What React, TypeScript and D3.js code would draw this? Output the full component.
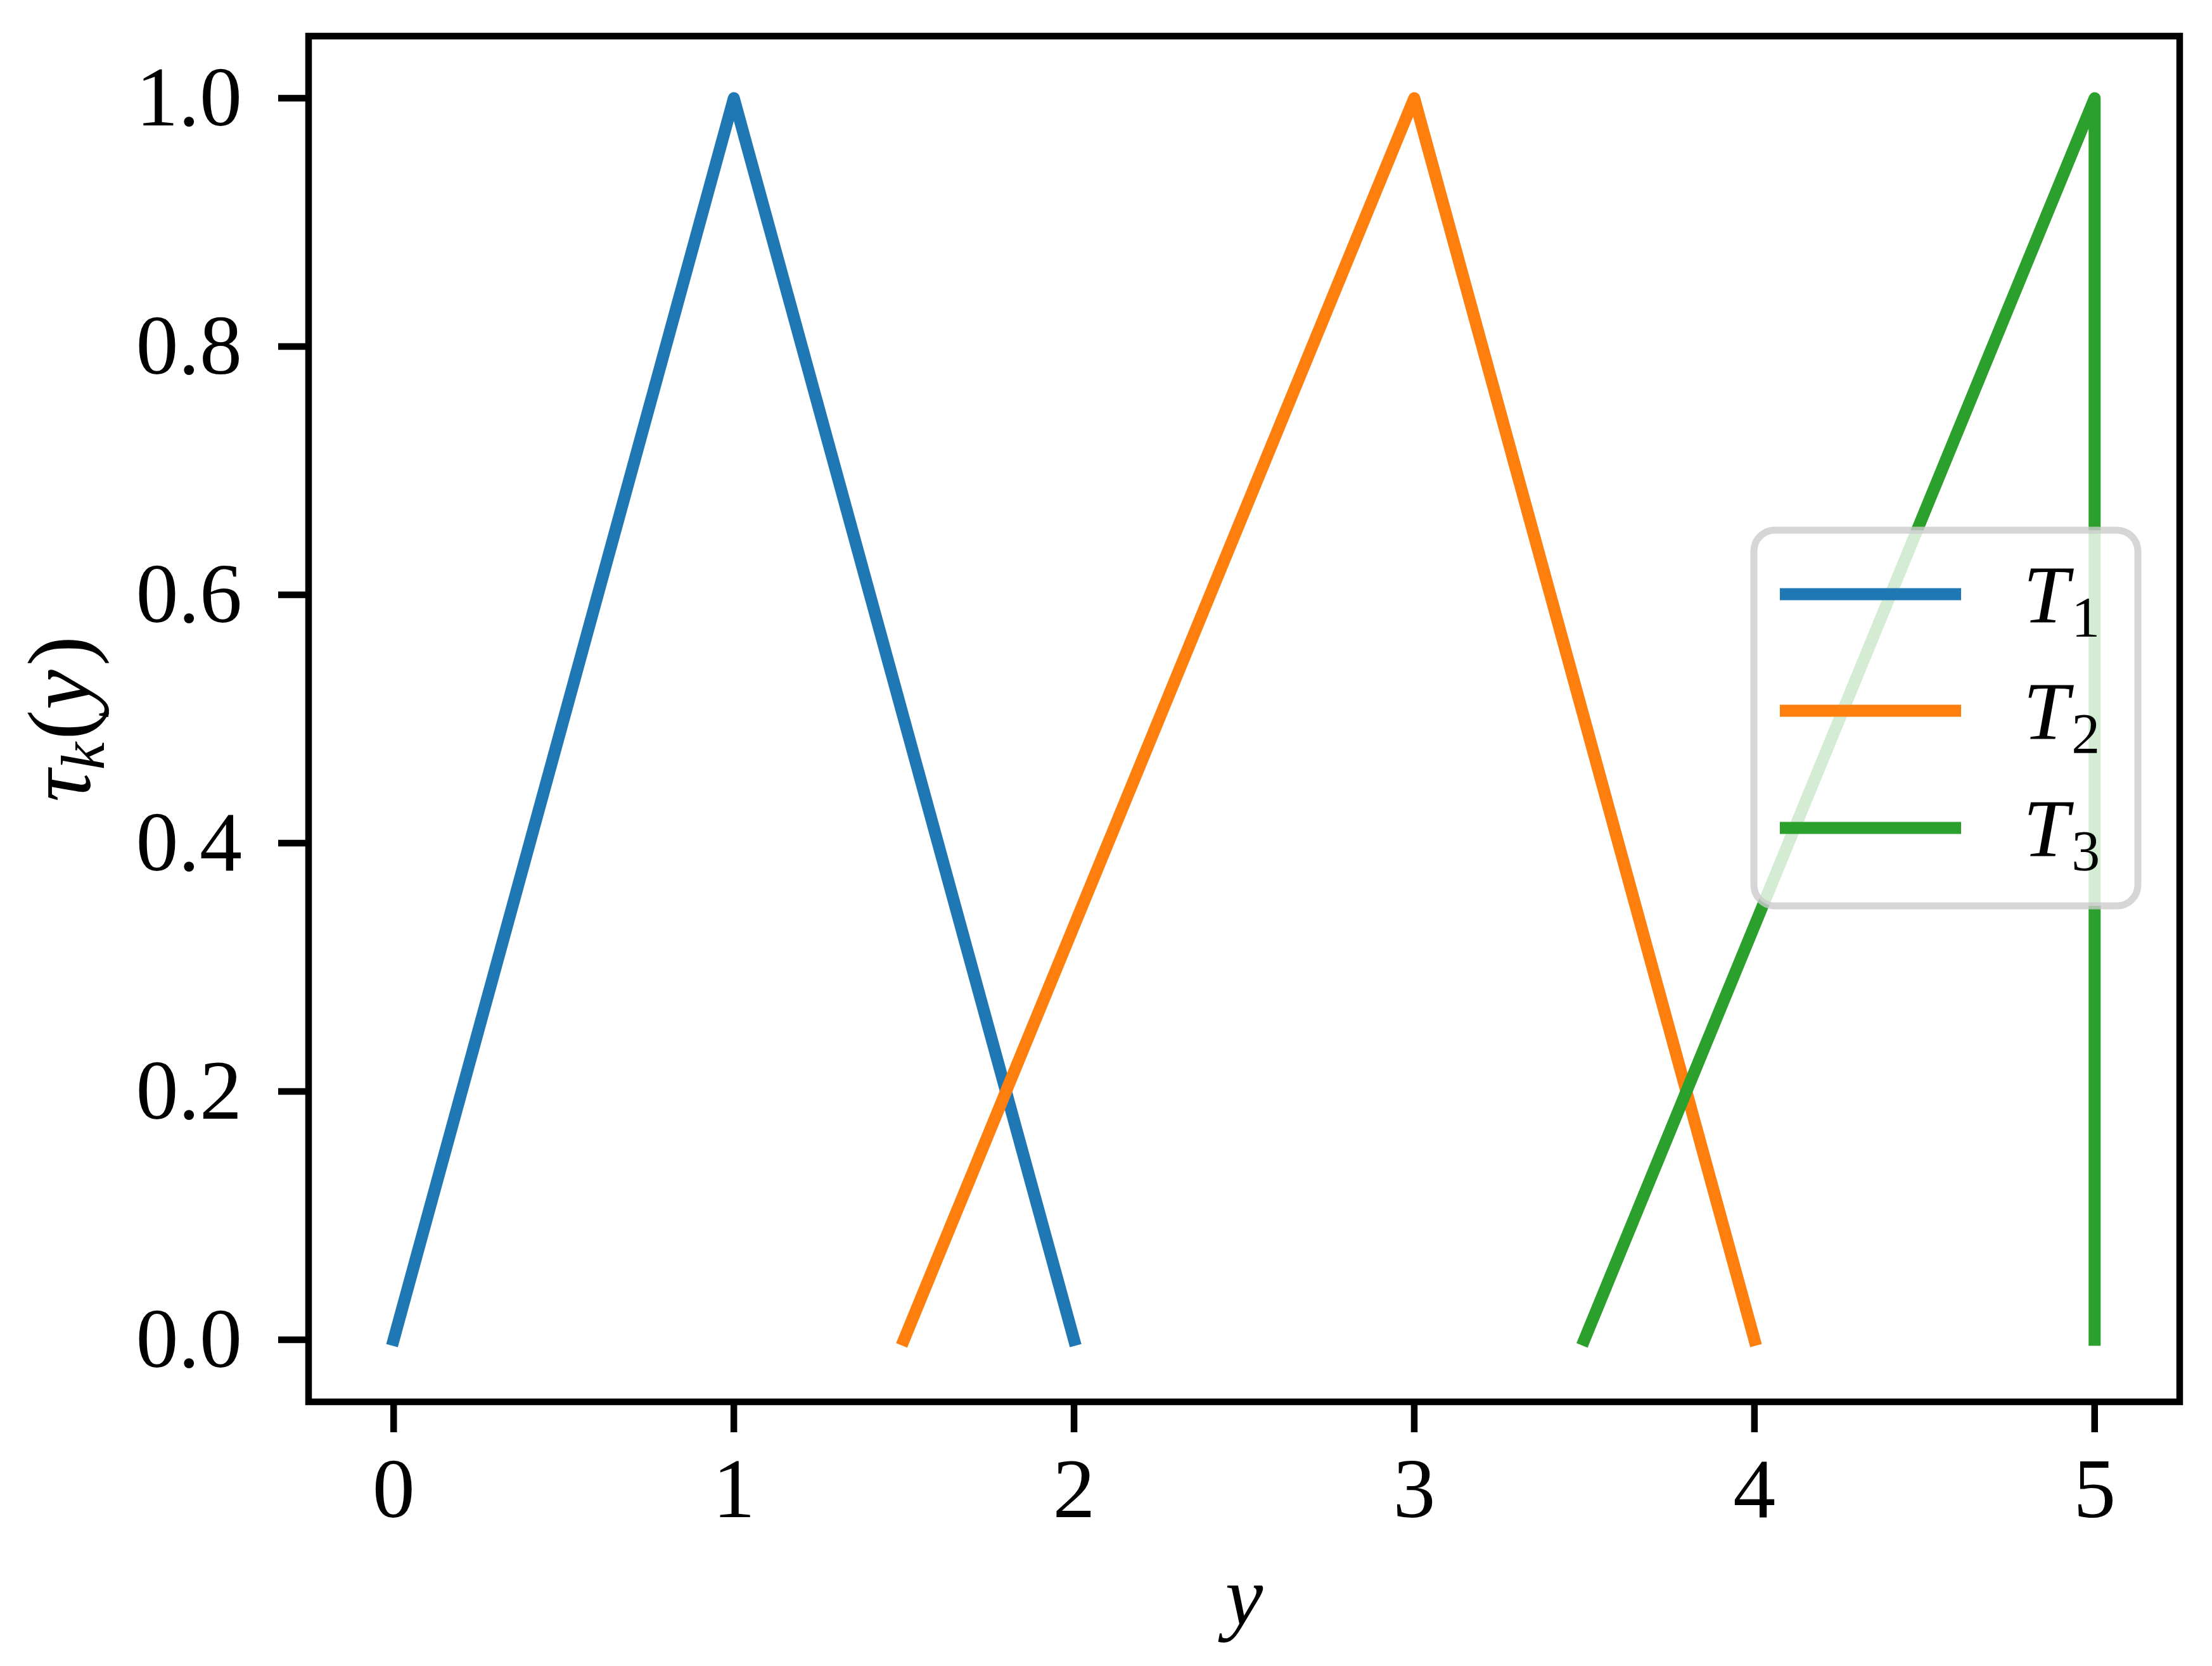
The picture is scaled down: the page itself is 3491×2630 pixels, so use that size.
import React from "react";
import * as d3 from "d3";

const seriesNames = ["1", "2", "3"];
const seriesColors = ["#1f77b4", "#ff7f0e", "#2ca02c"];
const t1X = [0, 1, 2];
const t1Y = [0, 1, 0];
const t2X = [1.5, 3, 4];
const t2Y = [0, 1, 0];
const t3X = [3.5, 5, 5];
const t3Y = [0, 1, 0];
const xTicks = [0, 1, 2, 3, 4, 5];
const yTicks = [0, 0.2, 0.4, 0.6, 0.8, 1.0];

const W = 3491;
const H = 2630;
const L = 487, R = 3440, T = 57, B = 2213;
const FONT = "'Liberation Serif', 'Times New Roman', serif";

export default function App() {
  const x = d3.scaleLinear().domain([-0.25, 5.25]).range([L, R]);
  const y = d3.scaleLinear().domain([-0.05, 1.05]).range([B, T]);
  const line = d3.line<[number, number]>().x(d => x(d[0])).y(d => y(d[1]));
  const series = [
    t1X.map((v, i) => [v, t1Y[i]] as [number, number]),
    t2X.map((v, i) => [v, t2Y[i]] as [number, number]),
    t3X.map((v, i) => [v, t3Y[i]] as [number, number]),
  ];
  const legX0 = 2768, legY0 = 837, legX1 = 3374, legY1 = 1430;
  const legRowY = [938, 1122, 1307];
  return (
    <svg width={W} height={H} style={{ position: "absolute", left: 0, top: 0, background: "#fff" }}>
      <rect x={0} y={0} width={W} height={H} fill="#fff" />
      <defs>
        <clipPath id="clip">
          <rect x={L} y={T} width={R - L} height={B - T} />
        </clipPath>
      </defs>
      <g clipPath="url(#clip)">
        {series.map((s, i) => (
          <path key={i} d={line(s) || ""} fill="none" stroke={seriesColors[i]} strokeWidth={19}
            strokeLinecap="square" strokeLinejoin="round" />
        ))}
      </g>
      {xTicks.map(t => (
        <g key={"x" + t}>
          <line x1={x(t)} x2={x(t)} y1={B} y2={B + 48} stroke="#000" strokeWidth={10.5} />
          <text x={x(t)} y={2395} fontFamily={FONT} fontSize={134} textAnchor="middle">{String(t)}</text>
        </g>
      ))}
      {yTicks.map(t => (
        <g key={"y" + t}>
          <line x1={L - 48} x2={L} y1={y(t)} y2={y(t)} stroke="#000" strokeWidth={10.5} />
          <text x={382} y={y(t) + 43} fontFamily={FONT} fontSize={134} textAnchor="end">{t.toFixed(1)}</text>
        </g>
      ))}
      <rect x={L} y={T} width={R - L} height={B - T} fill="none" stroke="#000" strokeWidth={10.5} strokeLinejoin="miter" />
      <text x={(L + R) / 2} y={2565} fontFamily={FONT} fontSize={134} fontStyle="italic" textAnchor="middle">y</text>
      <text transform={`translate(142, ${(T + B) / 2}) rotate(-90)`} fontFamily={FONT} fontSize={142} textAnchor="middle">
        <tspan fontStyle="italic">τ</tspan>
        <tspan fontStyle="italic" fontSize={98} dy={22}>k</tspan>
        <tspan dy={-22} dx={4}>(</tspan>
        <tspan fontStyle="italic">y</tspan>
        <tspan dx={6}>)</tspan>
      </text>
      <rect x={legX0} y={legY0} width={legX1 - legX0} height={legY1 - legY0} rx={33} ry={33}
        fill="#fff" fillOpacity={0.8} stroke="#cccccc" strokeOpacity={0.8} strokeWidth={11} />
      {seriesNames.map((n, i) => (
        <g key={n}>
          <line x1={2809} x2={3095} y1={legRowY[i]} y2={legRowY[i]} stroke={seriesColors[i]} strokeWidth={19} />
          <text x={3193} y={legRowY[i] + 44} fontFamily={FONT} fontSize={130}>
            <tspan fontStyle="italic">T</tspan>
            <tspan fontSize={90} dy={23} dx={4}>{n}</tspan>
          </text>
        </g>
      ))}
    </svg>
  );
}
